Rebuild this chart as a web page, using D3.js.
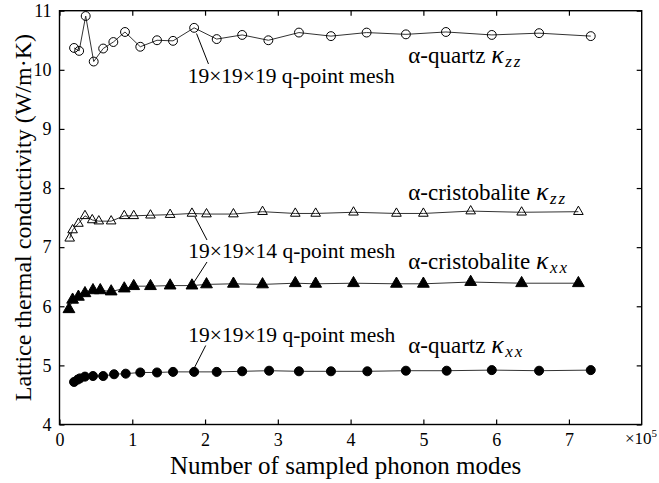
<!DOCTYPE html>
<html><head><meta charset="utf-8">
<script src="https://cdn.jsdelivr.net/npm/d3@7"></script>
<style>body{margin:0;background:#fff}svg{display:block}text{font-family:"Liberation Serif","Times New Roman",serif;fill:#000}</style>
</head><body><svg id="c" width="659" height="483"></svg>
<script>
// x in units of 10^5 sampled phonon modes, y in W/(m·K)
const quartzZZ_x = [0.20,0.27,0.36,0.47,0.60,0.74,0.90,1.11,1.34,1.56,1.85,2.16,2.51,2.87,3.29,3.73,4.22,4.76,5.31,5.94,6.59,7.30];
const quartzZZ_y = [10.37,10.32,10.91,10.14,10.36,10.47,10.64,10.39,10.50,10.49,10.71,10.52,10.59,10.50,10.63,10.57,10.63,10.60,10.64,10.59,10.62,10.57];
const cristZZ_x = [0.14,0.18,0.26,0.35,0.45,0.54,0.71,0.89,1.02,1.25,1.52,1.82,2.02,2.39,2.79,3.24,3.52,4.04,4.63,5.00,5.65,6.35,7.13];
const cristZZ_y = [7.15,7.29,7.40,7.53,7.46,7.44,7.44,7.53,7.53,7.54,7.55,7.57,7.56,7.56,7.60,7.57,7.57,7.59,7.57,7.57,7.61,7.59,7.60];
const cristXX_x = [0.13,0.18,0.26,0.35,0.46,0.56,0.71,0.89,1.02,1.25,1.52,1.82,2.02,2.39,2.79,3.24,3.52,4.04,4.63,5.00,5.65,6.35,7.13];
const cristXX_y = [5.95,6.11,6.16,6.22,6.27,6.27,6.25,6.30,6.34,6.34,6.35,6.35,6.37,6.38,6.37,6.39,6.38,6.39,6.38,6.38,6.41,6.39,6.39];
const quartzXX_x = [0.20,0.25,0.28,0.35,0.46,0.60,0.75,0.91,1.11,1.34,1.56,1.85,2.16,2.51,2.88,3.29,3.73,4.23,4.76,5.32,5.94,6.59,7.30];
const quartzXX_y = [4.72,4.76,4.78,4.81,4.82,4.82,4.85,4.86,4.88,4.88,4.89,4.89,4.89,4.90,4.91,4.90,4.90,4.90,4.91,4.91,4.92,4.91,4.92];
const xTicks = [0,1,2,3,4,5,6,7];
const yTicks = [4,5,6,7,8,9,10,11];
const xLabel = "Number of sampled phonon modes";
const yLabel = "Lattice thermal conductivity (W/m·K)";
const seriesNames = ["α-quartz", "α-cristobalite", "α-cristobalite", "α-quartz"];
const seriesSubs = ["zz", "zz", "xx", "xx"];
const meshLabels = ["19×19×19 q-point mesh", "19×19×14 q-point mesh", "19×19×19 q-point mesh"];

const svg = d3.select("#c");
const L = 59.5, R = 641.7, T = 10.7, B = 424.5;
const x = d3.scaleLinear().domain([0, 8]).range([L, R]);
const y = d3.scaleLinear().domain([4, 11]).range([B, T]);

// axes with inward ticks on all four sides
const tl = 5;
svg.append("g").attr("transform", `translate(0,${B})`)
  .call(d3.axisBottom(x).tickValues(xTicks).tickSizeInner(-tl).tickSizeOuter(0).tickPadding(9).tickFormat(d3.format("d")))
  .call(g => g.selectAll("text").attr("font-size", 18).style("font-family", "Liberation Serif"));
svg.append("g").attr("transform", `translate(0,${T})`)
  .call(d3.axisTop(x).tickValues(xTicks).tickSizeInner(-tl).tickSizeOuter(0).tickFormat(""));
svg.append("g").attr("transform", `translate(${L},0)`)
  .call(d3.axisLeft(y).tickValues(yTicks).tickSizeInner(-tl).tickSizeOuter(0).tickPadding(8).tickFormat(d3.format("d")))
  .call(g => g.selectAll("text").attr("font-size", 18).style("font-family", "Liberation Serif"));
svg.append("g").attr("transform", `translate(${R},0)`)
  .call(d3.axisRight(y).tickValues(yTicks).tickSizeInner(-tl).tickSizeOuter(0).tickFormat(""));
svg.selectAll(".domain").remove();
svg.selectAll(".tick line").attr("stroke", "#000").attr("stroke-width", 1.2);
svg.append("rect").attr("x", L).attr("y", T).attr("width", R - L).attr("height", B - T)
  .attr("fill", "none").attr("stroke", "#000").attr("stroke-width", 1.4);

// ×10^5
const mult = svg.append("text").attr("x", x(7.77)).attr("y", B + 19).attr("font-size", 17);
mult.append("tspan").text("×10");
mult.append("tspan").attr("dy", -7).attr("font-size", 11).text("5");

// axis titles
svg.append("text").attr("x", (L + R) / 2 - 5).attr("y", 474).attr("text-anchor", "middle")
  .attr("font-size", 25).text(xLabel);
svg.append("text").attr("transform", `translate(31,${(T + B) / 2}) rotate(-90)`)
  .attr("text-anchor", "middle").attr("font-size", 24).text(yLabel);

// series
const series = [
  {xs: quartzZZ_x, ys: quartzZZ_y, sym: d3.symbolCircle, size: 62, fill: "none"},
  {xs: cristZZ_x, ys: cristZZ_y, sym: d3.symbolTriangle, size: 40, fill: "none"},
  {xs: cristXX_x, ys: cristXX_y, sym: d3.symbolTriangle, size: 60, fill: "#000"},
  {xs: quartzXX_x, ys: quartzXX_y, sym: d3.symbolCircle, size: 64, fill: "#000"}
];
const line = d3.line().x(d => x(d[0])).y(d => y(d[1]));
series.forEach(s => {
  const pts = s.xs.map((v, i) => [v, s.ys[i]]);
  svg.append("path").datum(pts).attr("d", line).attr("fill", "none")
    .attr("stroke", "#333").attr("stroke-width", 1);
  svg.append("g").selectAll("path").data(pts).join("path")
    .attr("transform", d => `translate(${x(d[0])},${y(d[1])})`)
    .attr("d", d3.symbol().type(s.sym).size(s.size))
    .attr("fill", s.fill).attr("stroke", "#000").attr("stroke-width", 1);
});

// series labels
const labelPos = [[4.793, 10.115], [4.793, 7.798], [4.793, 6.625], [4.793, 5.204]];
labelPos.forEach((p, i) => {
  const t = svg.append("text").attr("x", x(p[0])).attr("y", y(p[1])).attr("font-size", 23);
  t.append("tspan").text(seriesNames[i] + " ");
  t.append("tspan").attr("font-style", "italic").attr("font-size", 26).text("κ");
  t.append("tspan").attr("font-style", "italic").attr("font-size", 17).attr("letter-spacing", 2)
    .attr("dy", 4).attr("dx", 1.5).text(seriesSubs[i]);
});

// mesh annotations
const meshPos = [[1.762, 9.777], [1.770, 6.817], [1.770, 5.396]];
meshPos.forEach((p, i) => {
  svg.append("text").attr("x", x(p[0])).attr("y", y(p[1])).attr("font-size", 21.5).text(meshLabels[i]);
});
const leaders = [
  [[1.883, 10.614], [2.047, 10.099]],
  [[1.862, 7.510], [2.027, 7.121]],
  [[2.027, 6.749], [1.841, 6.394]],
  [[2.009, 5.336], [1.852, 4.956]]
];
leaders.forEach(l => {
  svg.append("line").attr("x1", x(l[0][0])).attr("y1", y(l[0][1]))
    .attr("x2", x(l[1][0])).attr("y2", y(l[1][1]))
    .attr("stroke", "#000").attr("stroke-width", 1);
});
</script></body></html>
